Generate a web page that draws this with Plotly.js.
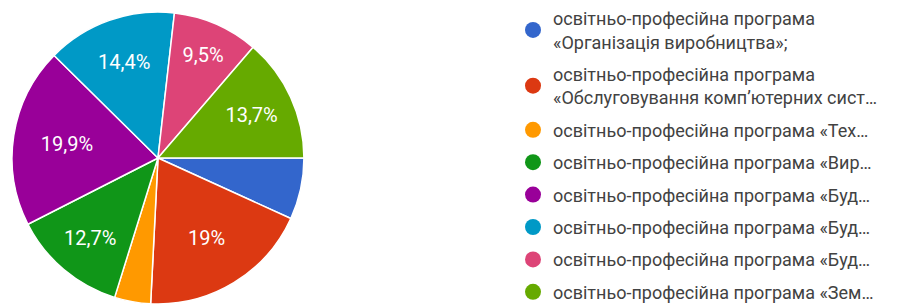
<!DOCTYPE html>
<html>
<head>
<meta charset="utf-8">
<script src="https://cdn.plot.ly/plotly-3.0.1.min.js"></script>
<style>html,body{margin:0;padding:0;background:#fff;}#chart{width:910px;height:304px;}</style>
</head>
<body>
<div id="chart"></div>
<script>
const categories = [
  "освітньо-професійна програма<br>«Організація виробництва»;",
  "освітньо-професійна програма<br>«Обслуговування комп’ютерних сист…",
  "освітньо-професійна програма «Тех…",
  "освітньо-професійна програма «Вир…",
  "освітньо-професійна програма «Буд…",
  "освітньо-професійна програма «Буд…",
  "освітньо-професійна програма «Буд…",
  "освітньо-професійна програма «Зем…"
];
const values = [6.8, 19, 4.0, 12.7, 19.9, 14.4, 9.5, 13.7];
const colors = ["#3366cc", "#dc3912", "#ff9900", "#109618", "#990099", "#0099c6", "#dd4477", "#66aa00"];

const total = values.reduce((a, b) => a + b, 0);
const sliceText = values.map(v => {
  const p = Math.round(v / total * 1000) / 10;
  return p < 8 ? "" : String(p).replace(".", ",") + "%";
});

const pie = {
  type: "pie",
  values: values,
  labels: categories.map((c, i) => "slice " + (i + 1)),
  hovertext: categories,
  marker: {colors: colors, line: {color: "#ffffff", width: 1.5}},
  sort: false,
  direction: "clockwise",
  rotation: 90,
  text: sliceText,
  textinfo: "text",
  textposition: "inside",
  insidetextorientation: "horizontal",
  insidetextfont: {family: "Roboto, Arial, sans-serif", size: 20, color: "#ffffff"},
  showlegend: false,
  hoverinfo: "text+percent",
  domain: {x: [0.0132, 0.334], y: [0, 0.9605]}
};

const legendTraces = categories.map((c, i) => ({
  type: "scatter",
  mode: "markers",
  x: [null], y: [null],
  name: c,
  legendgroup: "g" + i,
  marker: {color: colors[i], size: 18, symbol: "circle"},
  showlegend: true,
  hoverinfo: "skip"
}));

const layout = {
  width: 910, height: 304,
  margin: {l: 0, r: 0, t: 0, b: 0},
  paper_bgcolor: "#ffffff",
  plot_bgcolor: "#ffffff",
  xaxis: {visible: false, domain: [0.6, 0.61]},
  yaxis: {visible: false, domain: [0, 0.01]},
  showlegend: true,
  legend: {
    x: 513 / 910, xanchor: "left",
    y: 1 - 4 / 304, yanchor: "top",
    font: {family: "Roboto, Arial, sans-serif", size: 18, color: "#424242"},
    tracegroupgap: 6,
    itemclick: false, itemdoubleclick: false,
    bgcolor: "rgba(0,0,0,0)"
  }
};

Plotly.newPlot("chart", [pie].concat(legendTraces), layout, {displayModeBar: false, staticPlot: true});
</script>
</body>
</html>
